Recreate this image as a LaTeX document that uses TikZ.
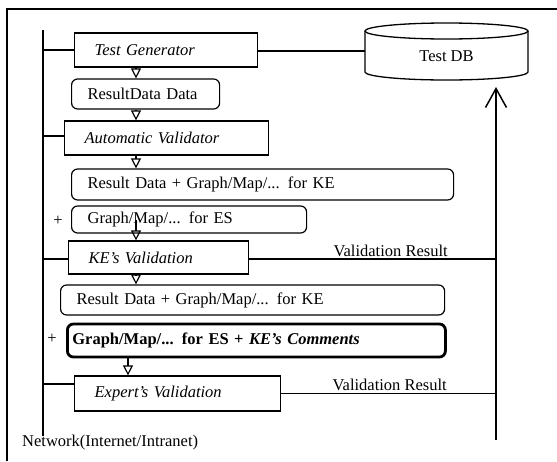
\documentclass[tikz,border=0pt]{standalone}
\usepackage{fontspec}
\setmainfont{Liberation Serif}
\usetikzlibrary{arrows.meta, positioning}

\begin{document}
\begin{tikzpicture}[
  x=1pt, y=-1pt,
  every node/.style={font=\fontsize{16.5}{19}\selectfont},
  box/.style={draw, line width=1.2pt, anchor=west, align=left, inner xsep=16pt, inner ysep=2pt},
  proc/.style={box, inner xsep=20pt, font=\fontsize{16.5}{19}\selectfont\itshape},
  data/.style={box, rounded corners=6pt},
  flow/.style={-{Triangle[open, length=10pt, width=10pt]}, line width=1.2pt},
  link/.style={line width=1.2pt}
]
  \useasboundingbox (0,0) rectangle (557,461);

  % frame
  \draw[line width=1.2pt] (7,461) -- (7,9) -- (557,9);

  % network line
  \coordinate (netT) at (43,30);
  \coordinate (netB) at (43,436);
  \draw[line width=1.5pt] (netT) -- (netB);
  \node[anchor=west, inner sep=0pt] (net) at (22,443) {Network(Internet/Intranet)};

  % Test DB
  \draw[line width=1.3pt] (446.5,31) ellipse (81.5pt and 8pt);
  \draw[line width=1.3pt] (365,31) -- (365,72)
    arc[start angle=180, end angle=360, x radius=81.5pt, y radius=8pt] -- (528,31);
  \node (db) at (446.5,56) {Test DB};
  \coordinate (dbW) at (365,51);
  \coordinate (dbIn) at (496,87);
  \coordinate (vrB) at (496,440);

  % column of steps
  \node[proc, minimum height=34pt, text width=143pt] (tg) at (74,50) {Test Generator};
  \node[data, minimum height=30pt, text width=116pt] (rd) at (71,94) {ResultData Data};
  \node[proc, minimum height=34pt, text width=164pt] (av) at (64,138) {Automatic Validator};
  \node[data, minimum height=31pt, text width=350pt] (rk1) at (71,184.5) {Result Data + Graph/Map/... for KE};
  \node[data, minimum height=27pt, text width=203pt] (es) at (71,219.5) {Graph/Map/... for ES};
  \node (plus1) at (58,221) {+};
  \node[proc, minimum height=33pt, text width=140pt] (kev) at (68,257.5) {KE's Validation};
  \node[data, minimum height=30pt, text width=352pt] (rk2) at (60,300) {Result Data + Graph/Map/... for KE};
  \node[data, line width=2.8pt, inner xsep=5pt, minimum height=33pt, text width=368pt,
        font=\fontsize{16.5}{19}\selectfont\bfseries] (esc) at (66,340.5)
        {Graph/Map/... for ES + \textit{KE's Comments}};
  \node (plus2) at (52,339) {+};
  \node[proc, minimum height=35pt, text width=166pt] (exv) at (74,393.5) {Expert's Validation};

  % arrows
  \coordinate (ax) at (136,0);
  \coordinate (ax2) at (128,0);
  \draw[flow] (tg.south -| ax) -- (rd.north -| ax);
  \draw[flow] (rd.south -| ax) -- (av.north -| ax);
  \draw[flow] (av.south -| ax) -- (rk1.north -| ax);
  \draw[flow] (es.center -| ax) -- (kev.north -| ax);
  \draw[flow] (kev.south -| ax) -- (rk2.north -| ax);
  \draw[flow] (esc.south -| ax2) -- (exv.north -| ax2);

  % links to the network
  \draw[link] (tg.west) -- (tg.west -| netT);
  \draw[link] ([yshift=2pt]av.west) -- ([yshift=2pt]av.west -| netT);
  \draw[link] ([yshift=-1.5pt]kev.west) -- ([yshift=-1.5pt]kev.west -| netT);
  \draw[link] ([yshift=9.5pt]exv.west) -- ([yshift=9.5pt]exv.west -| netT);

  % results back to the DB
  \draw[link] (tg.east |- dbW) -- (dbW);
  \draw[link] ([yshift=-1.5pt]kev.east) -- node[above, pos=0.573, inner sep=2pt] (vres1) {Validation Result}
    ([yshift=-1.5pt]kev.east -| vrB);
  \draw[link] (exv.east) -- node[above, pos=0.505, inner sep=2pt] (vres2) {Validation Result}
    (exv.east -| vrB);
  \draw[-{Straight Barb[length=19pt, width=21pt]}, line width=1.5pt] (vrB) -- (dbIn);
\end{tikzpicture}
\end{document}
